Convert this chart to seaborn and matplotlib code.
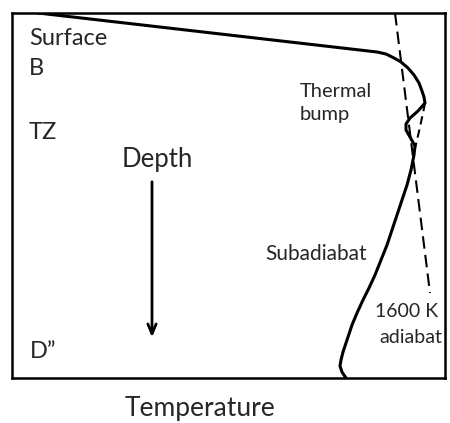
import numpy as np
import pandas as pd
import matplotlib
matplotlib.use('Agg')
import matplotlib.pyplot as plt
import seaborn as sns

# Geotherm (arbitrary units: temperature to the right, depth downward)
geo_temp = [26, 365, 374, 382, 389, 396, 402, 407, 410, 412, 413,
            406, 398, 394, 394, 398, 403, 402, 399, 395, 390, 385,
            380, 375, 369, 363, 357, 351, 345, 340, 335, 331, 329,
            328, 330, 334]
geo_depth = [0, 39, 41, 45, 49, 55, 62, 70, 78, 84, 90,
             98, 105, 111, 117, 124, 133, 142, 157, 172, 187, 202,
             217, 232, 247, 262, 275, 287, 300, 312, 327, 339, 347,
             353, 359, 365]

# Hot side of the thermal bump (dashed)
bump_temp = [413, 411, 408, 405, 403]
bump_depth = [90, 100, 114, 127, 135]

# 1600 K adiabat (dashed)
adiabat_temp = [383, 418]
adiabat_depth = [0, 280]

geo = pd.DataFrame({'Temperature': geo_temp, 'Depth': geo_depth})
bump = pd.DataFrame({'Temperature': bump_temp, 'Depth': bump_depth})
adiabat = pd.DataFrame({'Temperature': adiabat_temp, 'Depth': adiabat_depth})

sns.set_style('white')
plt.rcParams['font.family'] = ['Lato', 'DejaVu Sans']

fig = plt.figure(figsize=(4.5, 4.23), dpi=100)
ax = fig.add_axes([12 / 450, 1 - 378 / 423, 433 / 450, 365 / 423])

sns.lineplot(data=geo, x='Temperature', y='Depth', sort=False, estimator=None,
             color='black', linewidth=2.2, ax=ax)
ax.lines[-1].set_solid_joinstyle('round')
sns.lineplot(data=bump, x='Temperature', y='Depth', sort=False, estimator=None,
             color='black', linewidth=1.5, ax=ax)
ax.lines[-1].set_dashes((4, 2.5))
sns.lineplot(data=adiabat, x='Temperature', y='Depth', sort=False, estimator=None,
             color='black', linewidth=1.5, ax=ax)
ax.lines[-1].set_dashes((6, 3))

ax.set_xlim(0, 433)
ax.set_ylim(365, 0)
ax.set_xticks([])
ax.set_yticks([])
ax.set_xlabel('')
ax.set_ylabel('')
for s in ax.spines.values():
    s.set_visible(True)
    s.set_color('black')
    s.set_linewidth(1.8)

txt = dict(color='#262626', va='baseline', ha='left')
ax.text(17, 32, 'Surface', fontsize=17, **txt)
ax.text(17, 62, 'B', fontsize=17, **txt)
ax.text(17, 126, 'TZ', fontsize=17, **txt)
ax.text(18, 345, 'D\u201d', fontsize=17, **txt)
ax.text(288, 84, 'Thermal', fontsize=14.5, **txt)
ax.text(288, 107, 'bump', fontsize=14.5, **txt)
ax.text(253, 247, 'Subadiabat', fontsize=15, **txt)
ax.text(363, 304, '1600 K', fontsize=14, **txt)
ax.text(367, 330, 'adiabat', fontsize=14, **txt)
ax.text(145, 154, 'Depth', fontsize=18.5, color='#262626', ha='center', va='baseline')

# depth arrow
ax.annotate('', xy=(140, 327), xytext=(140, 166),
            arrowprops=dict(arrowstyle='->, head_length=0.7, head_width=0.3',
                            color='black', lw=2))

fig.text(200 / 450, 1 - 416 / 423, 'Temperature', fontsize=19, color='#262626',
         ha='center', va='baseline')

fig.savefig('out.png', dpi=100)
